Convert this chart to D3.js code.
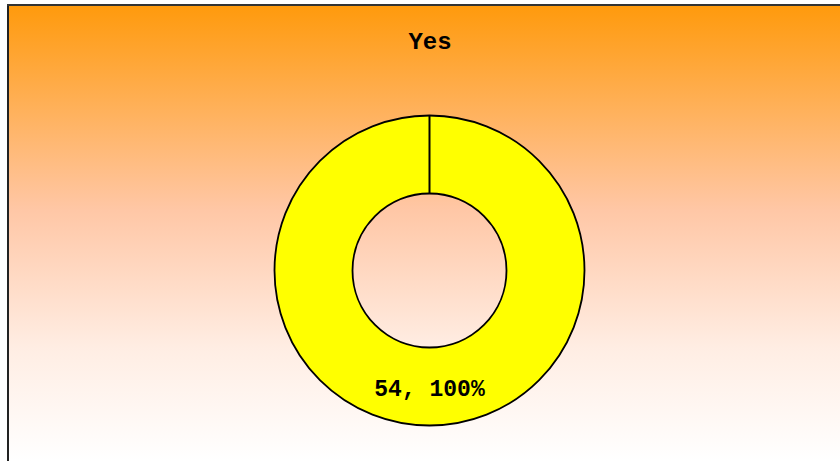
<!DOCTYPE html>
<html><head><meta charset="utf-8">
<script src="https://cdn.jsdelivr.net/npm/d3@7"></script>
<style>html,body{margin:0;padding:0;background:#fff;}svg{display:block;}</style>
</head><body>
<svg id="chart" width="840" height="461"></svg>
<script>
const categories = ["Yes"];
const values = [54];
const colors = ["#FFFF00"];
const title = "Yes";

const W = 840, H = 461;
const svg = d3.select("#chart");
const defs = svg.append("defs");
const grad = defs.append("linearGradient").attr("id","bg").attr("x1",0).attr("y1",0).attr("x2",0).attr("y2",1);
grad.append("stop").attr("offset","0%").attr("stop-color","#FF9A0C");
grad.append("stop").attr("offset","45%").attr("stop-color","#FFC7A6");
grad.append("stop").attr("offset","75%").attr("stop-color","#FFEDE3");
grad.append("stop").attr("offset","100%").attr("stop-color","#FFFFFF");

svg.append("rect").attr("x",8).attr("y",5).attr("width",W-8).attr("height",H-5).attr("fill","url(#bg)");
svg.append("line").attr("x1",8).attr("x2",8).attr("y1",4).attr("y2",H).attr("stroke","#222").attr("stroke-width",2);
svg.append("line").attr("x1",7).attr("x2",W).attr("y1",5).attr("y2",5).attr("stroke","#333").attr("stroke-width",2);

const font = "'Liberation Mono','Courier New','DejaVu Sans Mono',monospace";
svg.append("text").attr("x",430).attr("y",49).attr("text-anchor","middle")
  .attr("font-family",font).attr("font-weight","bold").attr("font-size",24)
  .text(title);

const cx = 429.5, cy = 270.5, rOuter = 155, rInner = 77;
const total = d3.sum(values);
const pie = d3.pie().sort(null).value(d => d)(values);
const arc = d3.arc().innerRadius(rInner).outerRadius(rOuter);
const g = svg.append("g").attr("transform",`translate(${cx},${cy})`);
g.selectAll("path.slice").data(pie).join("path").attr("class","slice")
  .attr("d",arc).attr("fill",(d,i)=>colors[i]).attr("stroke","#000").attr("stroke-width",1.8);
g.selectAll("line.sep").data(pie).join("line").attr("class","sep")
  .attr("x1",d=>rInner*Math.sin(d.startAngle)).attr("y1",d=>-rInner*Math.cos(d.startAngle))
  .attr("x2",d=>rOuter*Math.sin(d.startAngle)).attr("y2",d=>-rOuter*Math.cos(d.startAngle))
  .attr("stroke","#000").attr("stroke-width",2);

const labelR = (rInner + rOuter)/2;
g.selectAll("text.lbl").data(pie).join("text").attr("class","lbl")
  .attr("x", d => { const a = (d.startAngle + d.endAngle)/2; return labelR*Math.sin(a); })
  .attr("y", d => { const a = (d.startAngle + d.endAngle)/2; return -labelR*Math.cos(a) + 9; })
  .attr("text-anchor","middle")
  .attr("font-family",font).attr("font-weight","bold").attr("font-size",23)
  .text((d,i) => `${values[i]}, ${Math.round(values[i]/total*100)}%`);
</script>
</body></html>
